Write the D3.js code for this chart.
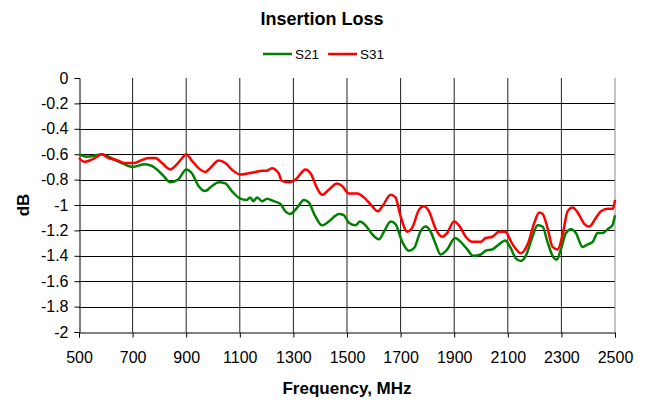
<!DOCTYPE html>
<html>
<head>
<meta charset="utf-8">
<script src="https://cdn.jsdelivr.net/npm/d3@7"></script>
<style>
  body { margin: 0; background: #fff; }
  svg { display: block; font-family: "Liberation Sans", Arial, sans-serif; }
</style>
</head>
<body>
<div id="chart"></div>
<script>
// values
var xTicks = [500, 700, 900, 1100, 1300, 1500, 1700, 1900, 2100, 2300, 2500];
var yTicks = [0, -0.2, -0.4, -0.6, -0.8, -1, -1.2, -1.4, -1.6, -1.8, -2];

var s21Freq = [500, 530, 560, 585, 620, 660, 700, 745, 785, 815, 840, 870, 900, 921, 946, 971, 996, 1021, 1046, 1070,
  1102, 1126, 1139, 1151, 1164, 1183, 1202, 1226, 1251, 1270, 1288, 1314, 1339, 1357, 1382, 1407, 1432, 1470, 1488,
  1507, 1532, 1548, 1569, 1594, 1619, 1638, 1663, 1681, 1706, 1731, 1750, 1774, 1793, 1812, 1831, 1849, 1874, 1903,
  1924, 1949, 1970, 1999, 2017, 2042, 2067, 2090, 2111, 2130, 2149, 2167, 2192, 2211, 2230, 2248, 2267, 2283, 2298,
  2317, 2336, 2354, 2379, 2398, 2417, 2435, 2454, 2473, 2490, 2500];
var s21 = [-0.60, -0.62, -0.61, -0.60, -0.63, -0.67, -0.70, -0.68, -0.71, -0.77, -0.82, -0.80, -0.72, -0.75, -0.85, -0.89, -0.85, -0.82, -0.83, -0.89,
  -0.95, -0.96, -0.94, -0.97, -0.94, -0.97, -0.95, -0.97, -0.99, -1.05, -1.07, -1.02, -0.96, -0.98, -1.09, -1.16, -1.13, -1.07, -1.08,
  -1.14, -1.16, -1.13, -1.16, -1.23, -1.27, -1.21, -1.13, -1.15, -1.29, -1.36, -1.34, -1.21, -1.17, -1.21, -1.31, -1.39, -1.35, -1.26,
  -1.29, -1.35, -1.40, -1.39, -1.36, -1.35, -1.31, -1.28, -1.34, -1.42, -1.44, -1.40, -1.25, -1.16, -1.17, -1.29, -1.40, -1.43, -1.35,
  -1.22, -1.19, -1.22, -1.33, -1.31, -1.29, -1.22, -1.22, -1.19, -1.16, -1.08];

var s31Freq = [500, 520, 540, 560, 585, 610, 645, 670, 705, 730, 760, 785, 810, 840, 865, 885, 900, 921, 946, 971, 989,
  1021, 1046, 1070, 1102, 1133, 1158, 1183, 1200, 1220, 1245, 1257, 1282, 1308, 1345, 1364, 1389, 1407, 1432, 1463, 1482,
  1507, 1538, 1563, 1594, 1615, 1632, 1663, 1681, 1700, 1725, 1743, 1768, 1787, 1806, 1831, 1855, 1874, 1899, 1918, 1943,
  1968, 1999, 2017, 2042, 2067, 2090, 2118, 2149, 2174, 2199, 2217, 2230, 2248, 2267, 2286, 2305, 2323, 2342, 2361, 2386,
  2404, 2429, 2448, 2473, 2492, 2500];
var s31 = [-0.63, -0.66, -0.65, -0.63, -0.60, -0.63, -0.65, -0.67, -0.67, -0.65, -0.63, -0.63, -0.67, -0.72, -0.68, -0.63, -0.60, -0.65, -0.71, -0.74, -0.71,
  -0.65, -0.67, -0.72, -0.76, -0.75, -0.74, -0.73, -0.73, -0.71, -0.75, -0.81, -0.82, -0.80, -0.72, -0.75, -0.87, -0.92, -0.88, -0.83, -0.85,
  -0.91, -0.91, -0.94, -1.01, -1.05, -1.01, -0.92, -0.94, -1.09, -1.21, -1.18, -1.04, -1.01, -1.05, -1.19, -1.25, -1.22, -1.13, -1.16, -1.25,
  -1.29, -1.29, -1.26, -1.25, -1.21, -1.21, -1.31, -1.38, -1.31, -1.14, -1.06, -1.07, -1.18, -1.33, -1.35, -1.23, -1.05, -1.02, -1.06, -1.15,
  -1.17, -1.10, -1.05, -1.03, -1.03, -0.96];

var seriesNames = ["S21", "S31"];
var seriesColors = ["#008000", "#ff0000"];

var W = 646, H = 403;
var plotLeft = 79, plotRight = 615, plotTop = 78, plotBottom = 332;

var svg = d3.select("#chart").append("svg")
    .attr("width", W)
    .attr("height", H);

svg.append("rect").attr("width", W).attr("height", H).attr("fill", "#fff");

var x = d3.scaleLinear().domain([500, 2500]).range([plotLeft, plotRight]);
var y = d3.scaleLinear().domain([-2, 0]).range([plotBottom, plotTop]);

// grid
svg.append("g").selectAll("line")
    .data(yTicks.filter(function(d) { return d !== 0 && d !== -2; }))
    .enter().append("line")
    .attr("x1", plotLeft).attr("x2", plotRight)
    .attr("y1", function(d) { return Math.round(y(d)) + 0.5; })
    .attr("y2", function(d) { return Math.round(y(d)) + 0.5; })
    .attr("stroke", "#000");

svg.append("g").selectAll("line")
    .data(xTicks.slice(1))
    .enter().append("line")
    .attr("x1", function(d) { return x(d); })
    .attr("x2", function(d) { return x(d); })
    .attr("y1", plotTop).attr("y2", plotBottom)
    .attr("stroke", function(d) { return d === 2500 ? "#888" : "#222"; });

// axes
var yAxis = svg.append("g")
    .attr("transform", "translate(" + (plotLeft + 0.5) + ",0)")
    .call(d3.axisLeft(y).tickValues(yTicks).tickSizeOuter(0).tickSize(5).tickPadding(6)
        .tickFormat(function(d) { return String(+d.toFixed(1)); }));

var xAxis = svg.append("g")
    .attr("transform", "translate(0," + (plotBottom + 0.5) + ")")
    .call(d3.axisBottom(x).tickValues(xTicks).tickSizeOuter(0).tickSize(5).tickPadding(14)
        .tickFormat(d3.format("d")));

[yAxis, xAxis].forEach(function(g) {
  g.select(".domain").attr("stroke", "#000");
  g.selectAll(".tick line").attr("stroke", "#000");
  g.selectAll("text")
      .attr("fill", "#000")
      .style("font-family", "'Liberation Sans', Arial, sans-serif")
      .style("font-size", "16px");
});

// lines
var line = d3.line()
    .x(function(d) { return x(d[0]); })
    .y(function(d) { return y(d[1]); })
    .curve(d3.curveMonotoneX);

var series = [d3.zip(s21Freq, s21), d3.zip(s31Freq, s31)];

svg.append("g").selectAll("path")
    .data(series)
    .enter().append("path")
    .attr("d", line)
    .attr("fill", "none")
    .attr("stroke", function(d, i) { return seriesColors[i]; })
    .attr("stroke-width", 2.5)
    .attr("stroke-linejoin", "round");

// title
svg.append("text")
    .attr("x", 322).attr("y", 25)
    .attr("text-anchor", "middle")
    .style("font-size", "18px")
    .style("font-weight", "bold")
    .text("Insertion Loss");

// legend
var legendX = [263, 328];
var legend = svg.append("g").selectAll("g")
    .data(seriesNames)
    .enter().append("g")
    .attr("transform", function(d, i) { return "translate(" + legendX[i] + ",54)"; });
legend.append("line")
    .attr("x1", 0).attr("x2", 29)
    .attr("stroke", function(d, i) { return seriesColors[i]; })
    .attr("stroke-width", 2.5);
legend.append("text")
    .attr("x", 32).attr("y", 5)
    .style("font-size", "13.5px")
    .text(function(d) { return d; });

// axis titles
svg.append("text")
    .attr("x", 347).attr("y", 394)
    .attr("text-anchor", "middle")
    .style("font-size", "17px")
    .style("font-weight", "bold")
    .text("Frequency, MHz");

svg.append("text")
    .attr("transform", "translate(29,205) rotate(-90)")
    .attr("text-anchor", "middle")
    .style("font-size", "17px")
    .style("font-weight", "bold")
    .text("dB");
</script>
</body>
</html>
